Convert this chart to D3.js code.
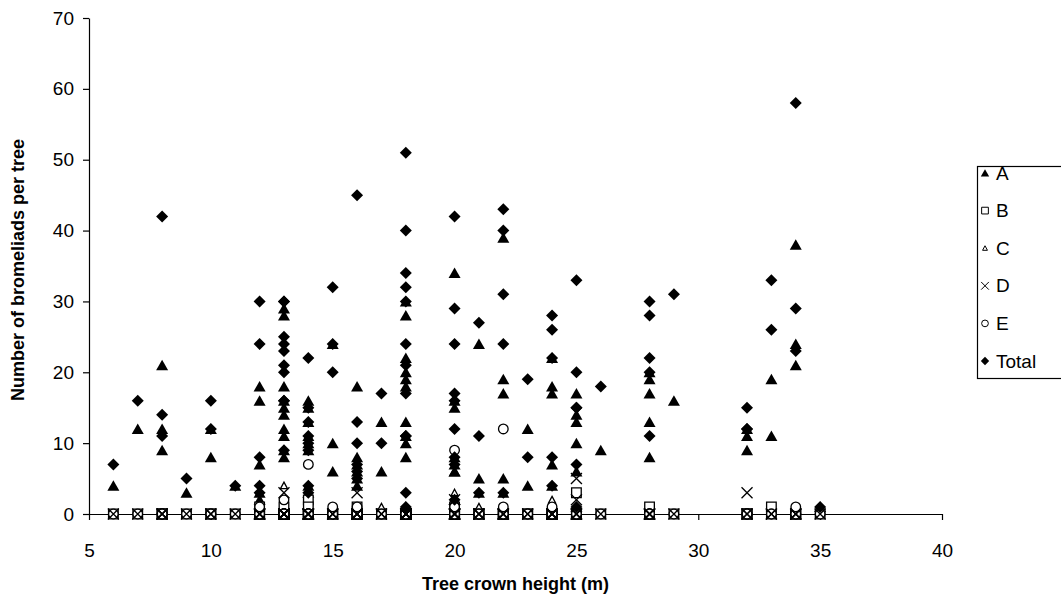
<!DOCTYPE html>
<html lang="en">
<head>
<meta charset="utf-8">
<script src="https://d3js.org/d3.v7.min.js"></script>
<title>Bromeliads per tree</title>
<style>
    body { margin: 0; background: #fff; }
    text { font-family: "Liberation Sans", Arial, sans-serif; fill: #000; }
</style>
</head>
<body>
<div id="container"></div>
<script>
    // one entry per tree, grouped by crown height
    var treeHeight = [6, 7, 8, 8, 8, 9, 10, 10, 11,
        12, 12, 12, 12, 12,
        13, 13, 13, 13, 13, 13, 13, 13, 13, 13,
        14, 14, 14, 14, 14, 14, 14, 14,
        15, 15, 15,
        16, 16, 16, 16, 16, 16,
        17, 17,
        18, 18, 18, 18, 18, 18, 18, 18, 18, 18, 18, 18,
        20, 20, 20, 20, 20, 20, 20, 20, 20,
        21, 21, 21,
        22, 22, 22, 22, 22,
        23, 23,
        24, 24, 24, 24, 24,
        25, 25, 25, 25, 25, 25,
        26,
        28, 28, 28, 28, 28,
        29,
        32, 32, 32,
        33, 33,
        34, 34, 34,
        35];
    var seriesA = [4, 12, 21, 12, 9, 3, 12, 8, 4,
        18, 16, 7, 3, 2,
        29, 28, 18, 16, 15, 14, 12, 11, 9, 8,
        16, 15, 13, 11, 10, 9, 4, 3,
        24, 10, 6,
        18, 8, 7, 6, 5, 4,
        13, 6,
        30, 28, 22, 20, 19, 18, 13, 11, 10, 8, 1, 1,
        34, 16, 15, 7, 6, 8, 6, 2, 2,
        24, 5, 3,
        39, 19, 17, 5, 3,
        12, 4,
        22, 18, 17, 7, 4,
        17, 14, 13, 10, 6, 1,
        9,
        19, 20, 17, 13, 8,
        16,
        11, 12, 9,
        19, 11,
        38, 24, 21,
        1];
    var seriesB = [0, 0, 0, 0, 0, 0, 0, 0, 0,
        0, 0, 0, 1, 0,
        0, 0, 0, 0, 0, 0, 0, 0, 0, 1,
        0, 0, 0, 0, 0, 0, 2, 1,
        0, 0, 0,
        0, 0, 0, 0, 1, 0,
        0, 0,
        0, 0, 0, 0, 0, 0, 0, 0, 0, 0, 0, 0,
        0, 0, 0, 0, 0, 0, 1, 0, 0,
        0, 0, 0,
        0, 0, 0, 0, 0,
        0, 0,
        0, 0, 0, 0, 0,
        0, 0, 0, 0, 3, 0,
        0,
        0, 0, 0, 0, 1,
        0,
        0, 0, 0,
        0, 1,
        0, 0, 0,
        0];
    var seriesC = [0, 0, 0, 0, 0, 0, 0, 0, 0,
        0, 0, 0, 0, 0,
        0, 0, 0, 0, 0, 0, 0, 4, 0, 0,
        0, 0, 0, 0, 0, 0, 0, 0,
        0, 0, 0,
        0, 0, 0, 0, 0, 0,
        0, 1,
        0, 0, 0, 0, 0, 0, 0, 0, 0, 0, 0, 0,
        0, 0, 0, 0, 0, 0, 0, 3, 0,
        0, 0, 1,
        0, 0, 0, 0, 0,
        0, 0,
        0, 0, 0, 2, 0,
        0, 0, 0, 0, 0, 0,
        0,
        0, 0, 0, 0, 0,
        0,
        0, 0, 0,
        0, 0,
        0, 0, 0,
        0];
    var seriesD = [0, 0, 0, 0, 0, 0, 0, 0, 0,
        0, 0, 0, 0, 0,
        0, 0, 0, 0, 0, 0, 0, 0, 3, 0,
        0, 0, 0, 0, 0, 0, 0, 0,
        0, 0, 0,
        0, 0, 3, 0, 0, 0,
        0, 0,
        0, 0, 0, 0, 0, 0, 0, 0, 0, 0, 0, 0,
        0, 0, 0, 0, 0, 0, 0, 0, 2,
        0, 0, 0,
        0, 0, 0, 0, 0,
        0, 0,
        0, 0, 0, 0, 0,
        0, 0, 0, 0, 5, 2,
        0,
        0, 0, 0, 0, 0,
        0,
        0, 3, 0,
        0, 0,
        0, 0, 0,
        0];
    var seriesE = [0, 0, 0, 0, 0, 0, 0, 0, 0,
        0, 0, 0, 0, 1,
        0, 0, 0, 0, 0, 0, 0, 0, 0, 2,
        0, 0, 0, 0, 7, 0, 0, 0,
        0, 0, 1,
        0, 0, 0, 0, 0, 1,
        0, 0,
        0, 0, 0, 0, 0, 0, 0, 0, 0, 0, 0, 0,
        0, 0, 0, 0, 9, 0, 0, 0, 1,
        0, 0, 0,
        0, 0, 0, 12, 1,
        0, 0,
        0, 0, 0, 0, 1,
        0, 0, 0, 0, 0, 0,
        0,
        0, 0, 0, 0, 0,
        0,
        0, 0, 0,
        0, 0,
        0, 0, 1,
        0];
    var seriesTotal = [7, 16, 42, 14, 11, 5, 16, 12, 4,
        30, 24, 8, 4, 3,
        30, 30, 25, 24, 23, 21, 20, 16, 16, 9,
        22, 15, 13, 11, 10, 9, 4, 3,
        24, 32, 20,
        45, 13, 10, 7, 6, 5,
        17, 10,
        51, 40, 34, 32, 30, 24, 21, 17, 11, 11, 3, 1,
        42, 29, 24, 17, 16, 12, 8, 7, 2,
        27, 11, 3,
        43, 40, 31, 24, 3,
        19, 8,
        28, 26, 22, 8, 4,
        33, 20, 15, 15, 7, 1,
        18,
        30, 28, 22, 20, 11,
        31,
        15, 12, 12,
        33, 26,
        58, 29, 23,
        1];

    var seriesNames = ["A", "B", "C", "D", "E", "Total"];
    var drawOrder = ["A", "B", "C", "E", "D", "Total"];
    var xTicks = [5, 10, 15, 20, 25, 30, 35, 40];
    var yTicks = [0, 10, 20, 30, 40, 50, 60, 70];

    var width = 1061, height = 606;
    var svg = d3.select("#container")
        .append("svg")
        .attr("width", width)
        .attr("height", height);

    var x = d3.scaleLinear().domain([5, 40]).range([89, 942]);
    var y = d3.scaleLinear().domain([0, 70]).range([514, 18]);

    // axes
    svg.append("g")
        .attr("transform", "translate(0," + y(0) + ")")
        .call(d3.axisBottom(x).tickValues(xTicks).tickSize(6).tickSizeOuter(0).tickPadding(24));
    svg.append("g")
        .attr("transform", "translate(" + x(5) + ",0)")
        .call(d3.axisLeft(y).tickValues(yTicks).tickSize(6).tickSizeOuter(0).tickPadding(9));
    svg.selectAll(".domain, .tick line").attr("stroke", "#000").attr("stroke-width", 1.2);
    svg.selectAll(".tick text").style("font-size", "19px").attr("fill", "#000");

    svg.append("text")
        .attr("x", (x(5) + x(40)) / 2)
        .attr("y", 590)
        .attr("text-anchor", "middle")
        .style("font-size", "18px")
        .style("font-weight", "bold")
        .text("Tree crown height (m)");
    svg.append("text")
        .attr("transform", "translate(24,270) rotate(-90)")
        .attr("text-anchor", "middle")
        .style("font-size", "18px")
        .style("font-weight", "bold")
        .text("Number of bromeliads per tree");

    // marker shapes, s = scale
    function marker(name, s) {
        var p = d3.path();
        if (name == "A") {
            p.moveTo(0, -5.5 * s); p.lineTo(6 * s, 5 * s); p.lineTo(-6 * s, 5 * s); p.closePath();
        } else if (name == "B") {
            p.rect(-4.8 * s, -4.8 * s, 9.6 * s, 9.6 * s);
        } else if (name == "C") {
            p.moveTo(0, -3.5 * s); p.lineTo(3.5 * s, 3 * s); p.lineTo(-3.5 * s, 3 * s); p.closePath();
        } else if (name == "D") {
            p.moveTo(-5.5 * s, -5.5 * s); p.lineTo(5.5 * s, 5.5 * s);
            p.moveTo(-5.5 * s, 5.5 * s); p.lineTo(5.5 * s, -5.5 * s);
        } else if (name == "E") {
            p.arc(0, 0, 4.8 * s, 0, 2 * Math.PI);
        } else {
            p.moveTo(0, -6 * s); p.lineTo(6 * s, 0); p.lineTo(0, 6 * s); p.lineTo(-6 * s, 0); p.closePath();
        }
        return p.toString();
    }
    function markerFill(name) {
        return (name == "A" || name == "Total") ? "#000" : (name == "D" ? "none" : "#fff");
    }

    var seriesValues = {A: seriesA, B: seriesB, C: seriesC, D: seriesD, E: seriesE, Total: seriesTotal};

    drawOrder.forEach(function (name) {
        var pts = treeHeight.map(function (h, i) { return {h: h, v: seriesValues[name][i]}; });
        svg.append("g")
            .selectAll("path")
            .data(pts)
            .enter()
            .append("path")
            .attr("transform", function (d) { return "translate(" + x(d.h) + "," + y(d.v) + ")"; })
            .attr("d", marker(name, 1))
            .attr("fill", markerFill(name))
            .attr("stroke", "#000")
            .attr("stroke-width", (name == "A" || name == "Total") ? 0 : 1.3);
    });

    // legend
    var legend = svg.append("g").attr("transform", "translate(977,166)");
    legend.append("rect")
        .attr("x", 0.5).attr("y", 0.5)
        .attr("width", 100).attr("height", 212)
        .attr("fill", "#fff").attr("stroke", "#000").attr("stroke-width", 1.2);
    var item = legend.selectAll(".item")
        .data(seriesNames)
        .enter()
        .append("g")
        .attr("transform", function (d, i) { return "translate(0," + (7 + i * 37.6) + ")"; });
    item.append("path")
        .attr("transform", "translate(8,0)")
        .attr("d", function (d) { return marker(d, 0.7); })
        .attr("fill", function (d) { return markerFill(d); })
        .attr("stroke", "#000")
        .attr("stroke-width", function (d) { return (d == "A" || d == "Total") ? 0 : 1; });
    item.append("text")
        .attr("x", 19)
        .attr("dy", "0.35em")
        .style("font-size", "19px")
        .text(function (d) { return d; });
</script>
</body>
</html>
